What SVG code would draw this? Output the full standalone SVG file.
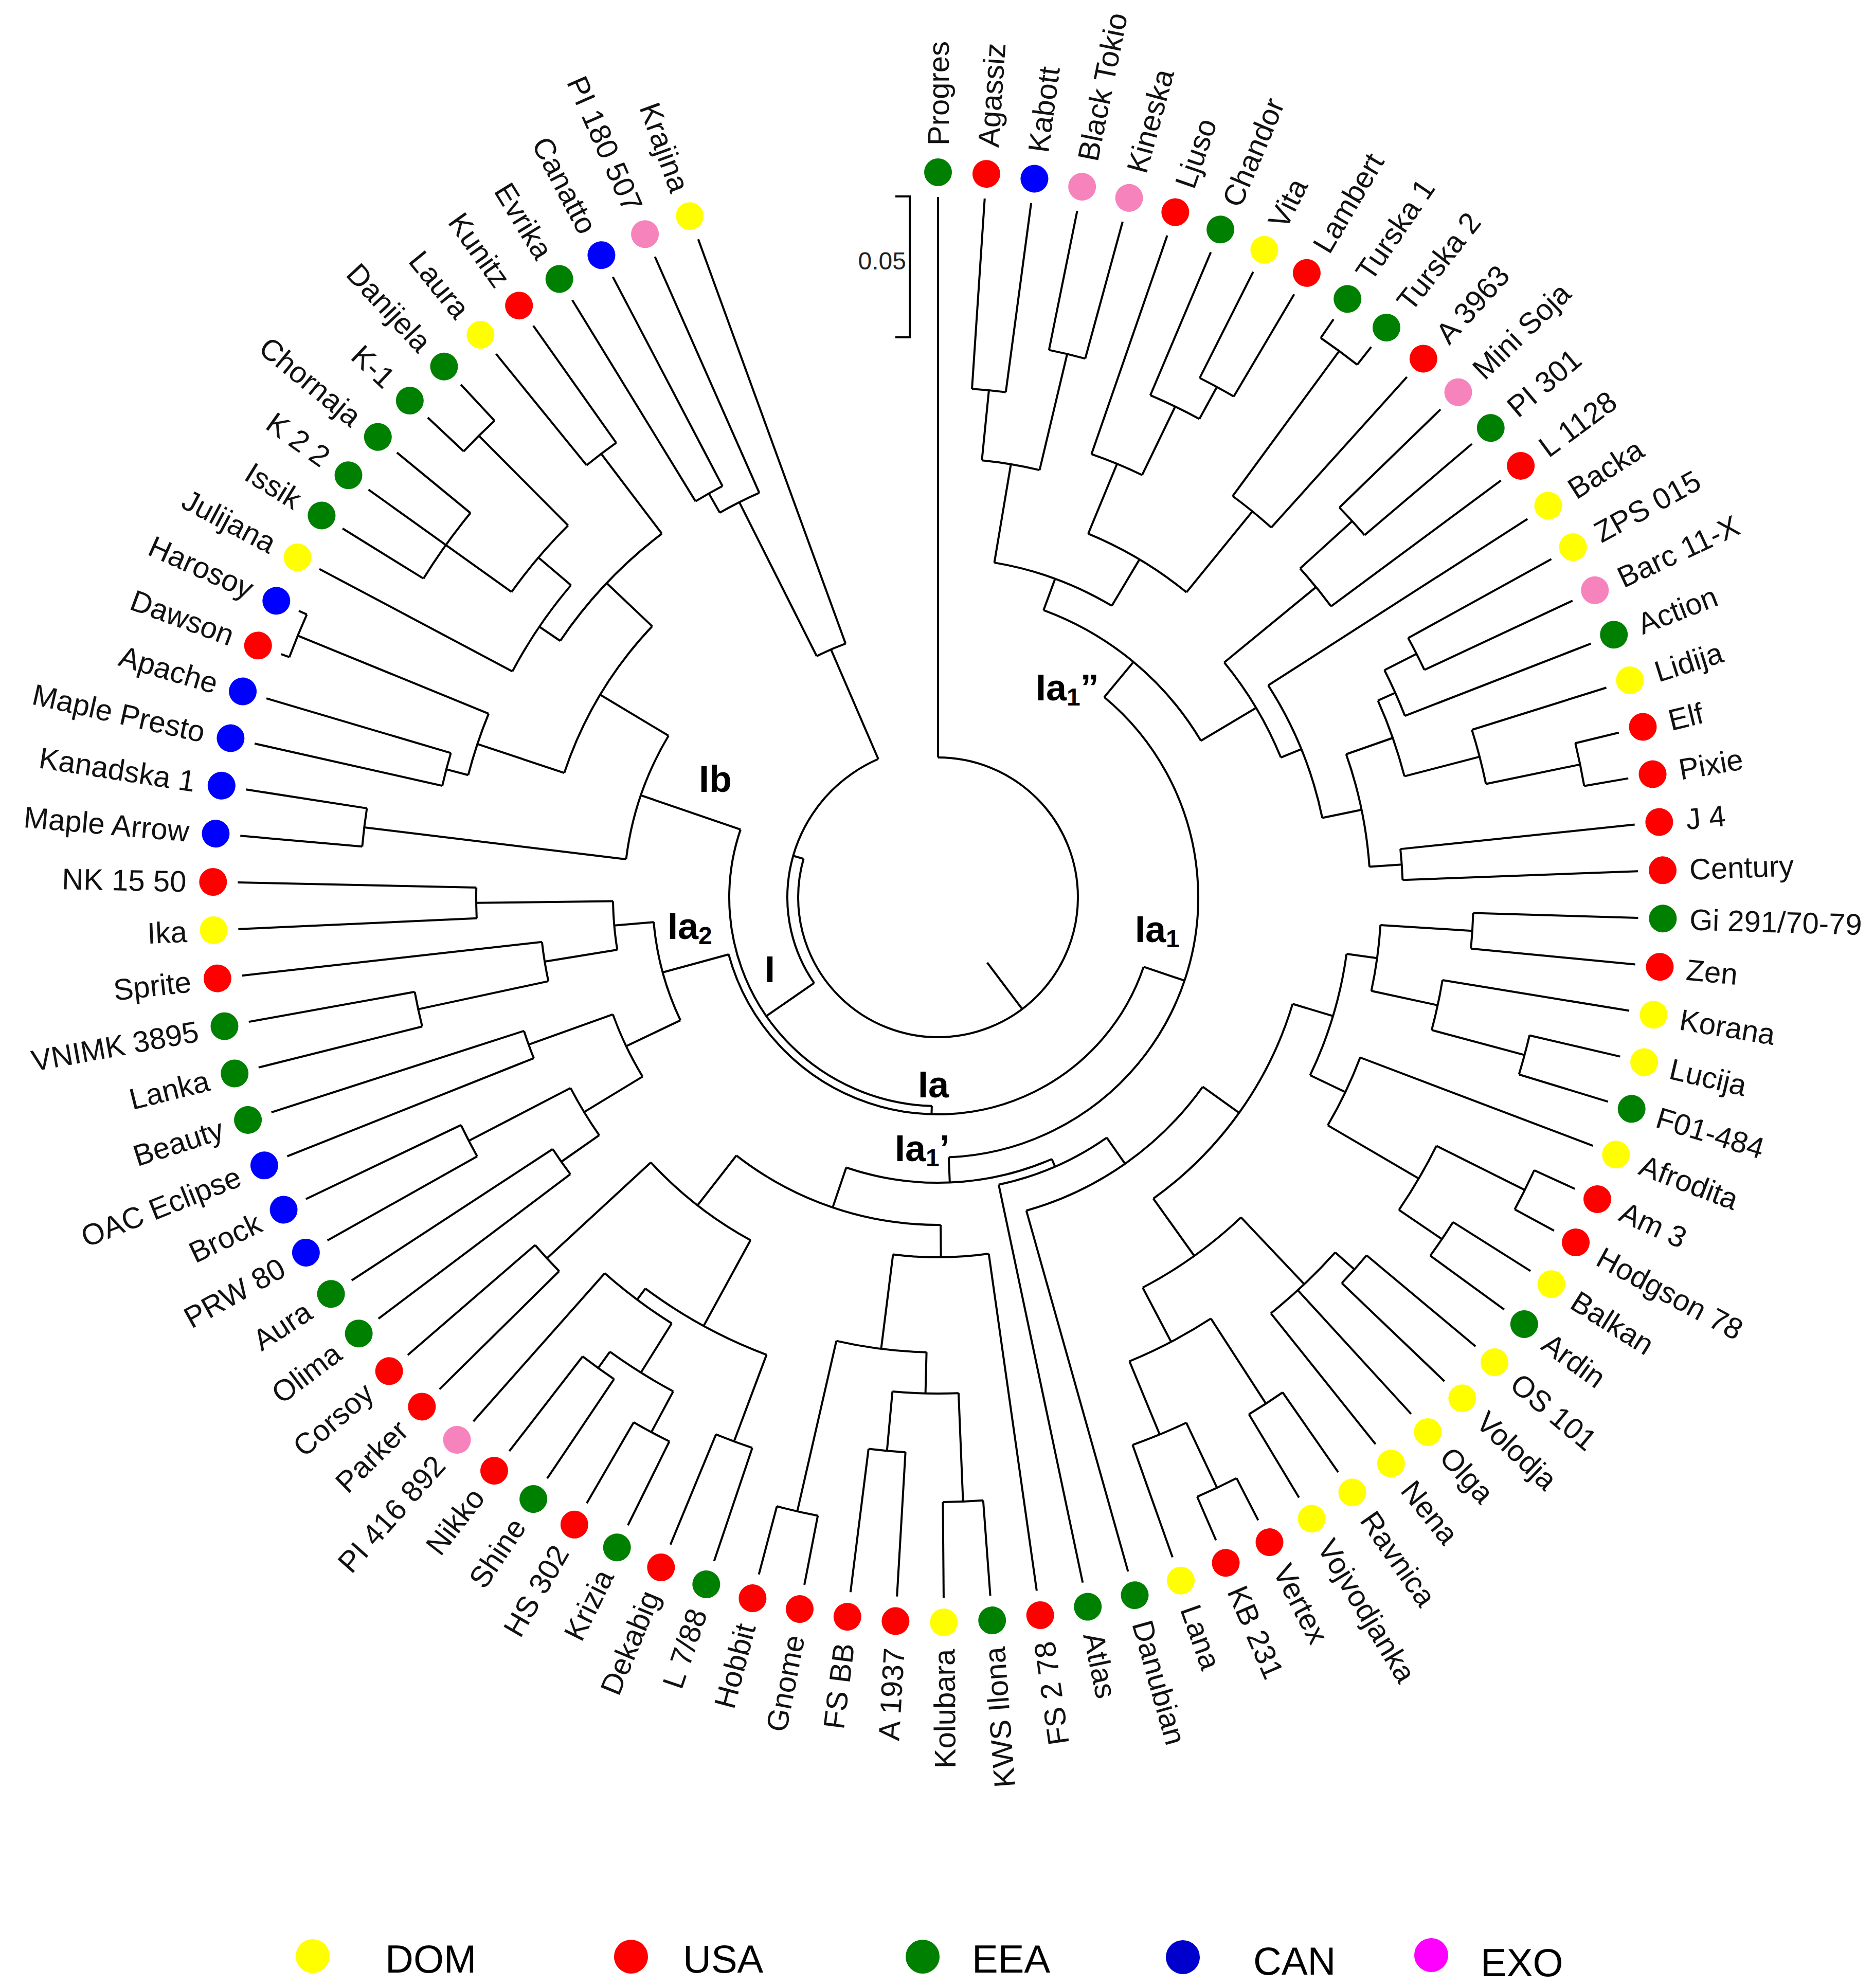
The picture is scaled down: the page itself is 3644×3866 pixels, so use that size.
<svg xmlns="http://www.w3.org/2000/svg" width="3644" height="3866" viewBox="0 0 3644 3866">
<style>
.c path,.c circle{fill:none;stroke:#000;stroke-width:4}
text{font-family:"Liberation Sans",Arial,sans-serif}
.t{font-size:58px;fill:#111;dominant-baseline:central}
.R{text-anchor:start}.L{text-anchor:end}
.cl{font-size:72px;font-weight:bold;fill:#000}
.g{fill:#008000}.r{fill:#ff0000}.b{fill:#0000ff}.y{fill:#ffff00}.p{fill:#f783bd}
</style>
<rect width="3644" height="3866" fill="#fff"/>
<g transform="translate(1824,1745)">
<g id="connectors" class="c">
<circle r="272" pathLength="360" stroke-dasharray="285.99 400" transform="rotate(-90)"/>
<circle r="293" pathLength="360" stroke-dasharray="101.31 400" transform="rotate(145.33)"/>
<circle r="525" pathLength="360" stroke-dasharray="6.68 400" transform="rotate(243.30)"/>
<circle r="860" pathLength="360" stroke-dasharray="5.73 400" transform="rotate(240.43)"/>
<circle r="903" pathLength="360" stroke-dasharray="3.82 400" transform="rotate(238.52)"/>
<circle r="406" pathLength="360" stroke-dasharray="107.24 400" transform="rotate(91.71)"/>
<circle r="422" pathLength="360" stroke-dasharray="146.08 400" transform="rotate(18.67)"/>
<circle r="506" pathLength="360" stroke-dasharray="137.94 400" transform="rotate(-50.30)"/>
<circle r="595" pathLength="360" stroke-dasharray="39.04 400" transform="rotate(-69.82)"/>
<circle r="660" pathLength="360" stroke-dasharray="21.25 400" transform="rotate(-80.45)"/>
<circle r="854" pathLength="360" stroke-dasharray="7.64 400" transform="rotate(-84.27)"/>
<circle r="991" pathLength="360" stroke-dasharray="3.82 400" transform="rotate(-86.18)"/>
<circle r="1086" pathLength="360" stroke-dasharray="3.82 400" transform="rotate(-78.54)"/>
<circle r="765" pathLength="360" stroke-dasharray="16.72 400" transform="rotate(-67.56)"/>
<circle r="912" pathLength="360" stroke-dasharray="6.69 400" transform="rotate(-70.90)"/>
<circle r="1060" pathLength="360" stroke-dasharray="5.73 400" transform="rotate(-67.08)"/>
<circle r="1131" pathLength="360" stroke-dasharray="3.82 400" transform="rotate(-63.26)"/>
<circle r="968" pathLength="360" stroke-dasharray="5.73 400" transform="rotate(-53.71)"/>
<circle r="1318" pathLength="360" stroke-dasharray="3.82 400" transform="rotate(-55.62)"/>
<circle r="720" pathLength="360" stroke-dasharray="17.19 400" transform="rotate(-39.38)"/>
<circle r="951" pathLength="360" stroke-dasharray="5.73 400" transform="rotate(-42.25)"/>
<circle r="1088" pathLength="360" stroke-dasharray="3.82 400" transform="rotate(-44.16)"/>
<circle r="763" pathLength="360" stroke-dasharray="21.02 400" transform="rotate(-32.70)"/>
<circle r="841" pathLength="360" stroke-dasharray="15.27 400" transform="rotate(-19.32)"/>
<circle r="937" pathLength="360" stroke-dasharray="9.55 400" transform="rotate(-24.10)"/>
<circle r="974" pathLength="360" stroke-dasharray="5.73 400" transform="rotate(-26.97)"/>
<circle r="1044" pathLength="360" stroke-dasharray="3.82 400" transform="rotate(-28.88)"/>
<circle r="1088" pathLength="360" stroke-dasharray="5.73 400" transform="rotate(-17.42)"/>
<circle r="1275" pathLength="360" stroke-dasharray="3.82 400" transform="rotate(-13.60)"/>
<circle r="904" pathLength="360" stroke-dasharray="3.82 400" transform="rotate(-5.96)"/>
<circle r="555" pathLength="360" stroke-dasharray="42.25 400" transform="rotate(66.51)"/>
<circle r="571" pathLength="360" stroke-dasharray="23.15 400" transform="rotate(54.93)"/>
<circle r="633" pathLength="360" stroke-dasharray="38.67 400" transform="rotate(35.59)"/>
<circle r="720" pathLength="360" stroke-dasharray="37.72 400" transform="rotate(16.73)"/>
<circle r="802" pathLength="360" stroke-dasharray="17.67 400" transform="rotate(7.89)"/>
<circle r="862" pathLength="360" stroke-dasharray="8.60 400" transform="rotate(3.59)"/>
<circle r="1041" pathLength="360" stroke-dasharray="3.82 400" transform="rotate(1.68)"/>
<circle r="994" pathLength="360" stroke-dasharray="5.73 400" transform="rotate(9.32)"/>
<circle r="1181" pathLength="360" stroke-dasharray="3.82 400" transform="rotate(13.14)"/>
<circle r="878" pathLength="360" stroke-dasharray="9.55 400" transform="rotate(20.78)"/>
<circle r="1083" pathLength="360" stroke-dasharray="7.64 400" transform="rotate(26.51)"/>
<circle r="1275" pathLength="360" stroke-dasharray="3.82 400" transform="rotate(24.60)"/>
<circle r="1184" pathLength="360" stroke-dasharray="3.82 400" transform="rotate(32.24)"/>
<circle r="857" pathLength="360" stroke-dasharray="15.76 400" transform="rotate(46.57)"/>
<circle r="1036" pathLength="360" stroke-dasharray="9.55 400" transform="rotate(41.79)"/>
<circle r="1086" pathLength="360" stroke-dasharray="3.82 400" transform="rotate(39.88)"/>
<circle r="976" pathLength="360" stroke-dasharray="10.51 400" transform="rotate(57.07)"/>
<circle r="1173" pathLength="360" stroke-dasharray="3.82 400" transform="rotate(55.16)"/>
<circle r="1130" pathLength="360" stroke-dasharray="5.73 400" transform="rotate(64.71)"/>
<circle r="1270" pathLength="360" stroke-dasharray="3.82 400" transform="rotate(62.80)"/>
<circle r="637" pathLength="360" stroke-dasharray="38.44 400" transform="rotate(89.54)"/>
<circle r="700" pathLength="360" stroke-dasharray="15.28 400" transform="rotate(81.90)"/>
<circle r="885" pathLength="360" stroke-dasharray="11.46 400" transform="rotate(91.45)"/>
<circle r="965" pathLength="360" stroke-dasharray="7.64 400" transform="rotate(87.63)"/>
<circle r="1176" pathLength="360" stroke-dasharray="3.82 400" transform="rotate(85.72)"/>
<circle r="1081" pathLength="360" stroke-dasharray="3.82 400" transform="rotate(93.36)"/>
<circle r="1225" pathLength="360" stroke-dasharray="3.82 400" transform="rotate(101.00)"/>
<circle r="760" pathLength="360" stroke-dasharray="18.62 400" transform="rotate(118.67)"/>
<circle r="950" pathLength="360" stroke-dasharray="16.24 400" transform="rotate(110.55)"/>
<circle r="1130" pathLength="360" stroke-dasharray="3.82 400" transform="rotate(108.64)"/>
<circle r="977" pathLength="360" stroke-dasharray="9.55 400" transform="rotate(122.01)"/>
<circle r="1090" pathLength="360" stroke-dasharray="7.64 400" transform="rotate(118.19)"/>
<circle r="1180" pathLength="360" stroke-dasharray="3.82 400" transform="rotate(116.28)"/>
<circle r="1129" pathLength="360" stroke-dasharray="3.82 400" transform="rotate(123.92)"/>
<circle r="1035" pathLength="360" stroke-dasharray="3.82 400" transform="rotate(135.38)"/>
<circle r="555" pathLength="360" stroke-dasharray="20.54 400" transform="rotate(154.48)"/>
<circle r="672" pathLength="360" stroke-dasharray="11.46 400" transform="rotate(148.75)"/>
<circle r="805" pathLength="360" stroke-dasharray="7.64 400" transform="rotate(144.93)"/>
<circle r="895" pathLength="360" stroke-dasharray="3.82 400" transform="rotate(143.02)"/>
<circle r="1028" pathLength="360" stroke-dasharray="3.82 400" transform="rotate(150.66)"/>
<circle r="846" pathLength="360" stroke-dasharray="3.82 400" transform="rotate(158.30)"/>
<circle r="632" pathLength="360" stroke-dasharray="8.59 400" transform="rotate(170.72)"/>
<circle r="775" pathLength="360" stroke-dasharray="5.73 400" transform="rotate(167.85)"/>
<circle r="1034" pathLength="360" stroke-dasharray="3.82 400" transform="rotate(165.94)"/>
<circle r="898" pathLength="360" stroke-dasharray="3.82 400" transform="rotate(177.40)"/>
<circle r="611" pathLength="360" stroke-dasharray="24.00 400" transform="rotate(186.95)"/>
<circle r="1124" pathLength="360" stroke-dasharray="3.82 400" transform="rotate(185.04)"/>
<circle r="766" pathLength="360" stroke-dasharray="25.07 400" transform="rotate(198.41)"/>
<circle r="944" pathLength="360" stroke-dasharray="7.64 400" transform="rotate(194.59)"/>
<circle r="988" pathLength="360" stroke-dasharray="3.82 400" transform="rotate(192.68)"/>
<circle r="1345" pathLength="360" stroke-dasharray="3.82 400" transform="rotate(200.32)"/>
<circle r="888" pathLength="360" stroke-dasharray="18.62 400" transform="rotate(214.17)"/>
<circle r="937" pathLength="360" stroke-dasharray="12.42 400" transform="rotate(207.96)"/>
<circle r="1020" pathLength="360" stroke-dasharray="9.55 400" transform="rotate(215.60)"/>
<circle r="1177" pathLength="360" stroke-dasharray="7.64 400" transform="rotate(211.78)"/>
<circle r="1266" pathLength="360" stroke-dasharray="3.82 400" transform="rotate(223.24)"/>
<circle r="1083" pathLength="360" stroke-dasharray="3.82 400" transform="rotate(230.88)"/>
<path d="M0-159V-272" transform="rotate(143)"/>
<path d="M0-272V-293" transform="rotate(285.99)"/>
<path d="M0-293V-406" transform="rotate(235.33)"/>
<path d="M0-293V-525" transform="rotate(336.64)"/>
<path d="M0-525V-860" transform="rotate(333.30)"/>
<path d="M0-860V-903" transform="rotate(330.43)"/>
<path d="M0-406V-422" transform="rotate(181.71)"/>
<path d="M0-406V-611" transform="rotate(288.95)"/>
<path d="M0-422V-506" transform="rotate(108.67)"/>
<path d="M0-422V-555" transform="rotate(254.75)"/>
<path d="M0-506V-595" transform="rotate(39.70)"/>
<path d="M0-506V-555" transform="rotate(177.64)"/>
<path d="M0-595V-660" transform="rotate(20.18)"/>
<path d="M0-595V-720" transform="rotate(59.22)"/>
<path d="M0-660V-854" transform="rotate(9.55)"/>
<path d="M0-660V-765" transform="rotate(30.80)"/>
<path d="M0-854V-991" transform="rotate(5.73)"/>
<path d="M0-854V-1086" transform="rotate(13.37)"/>
<path d="M0-765V-912" transform="rotate(22.44)"/>
<path d="M0-765V-968" transform="rotate(39.16)"/>
<path d="M0-912V-1060" transform="rotate(25.79)"/>
<path d="M0-1060V-1131" transform="rotate(28.65)"/>
<path d="M0-968V-1318" transform="rotate(36.29)"/>
<path d="M0-720V-951" transform="rotate(50.62)"/>
<path d="M0-720V-763" transform="rotate(67.81)"/>
<path d="M0-951V-1088" transform="rotate(47.75)"/>
<path d="M0-763V-841" transform="rotate(78.32)"/>
<path d="M0-841V-937" transform="rotate(70.68)"/>
<path d="M0-841V-904" transform="rotate(85.95)"/>
<path d="M0-937V-974" transform="rotate(65.90)"/>
<path d="M0-937V-1088" transform="rotate(75.45)"/>
<path d="M0-974V-1044" transform="rotate(63.03)"/>
<path d="M0-1088V-1275" transform="rotate(78.31)"/>
<path d="M0-555V-571" transform="rotate(156.51)"/>
<path d="M0-555V-637" transform="rotate(198.76)"/>
<path d="M0-571V-633" transform="rotate(144.93)"/>
<path d="M0-633V-720" transform="rotate(125.59)"/>
<path d="M0-720V-802" transform="rotate(106.73)"/>
<path d="M0-720V-857" transform="rotate(144.45)"/>
<path d="M0-802V-862" transform="rotate(97.89)"/>
<path d="M0-802V-878" transform="rotate(115.56)"/>
<path d="M0-862V-1041" transform="rotate(93.59)"/>
<path d="M0-862V-994" transform="rotate(102.19)"/>
<path d="M0-994V-1181" transform="rotate(105.05)"/>
<path d="M0-878V-1083" transform="rotate(120.33)"/>
<path d="M0-1083V-1275" transform="rotate(116.51)"/>
<path d="M0-1083V-1184" transform="rotate(124.15)"/>
<path d="M0-857V-1036" transform="rotate(136.57)"/>
<path d="M0-857V-976" transform="rotate(152.33)"/>
<path d="M0-1036V-1086" transform="rotate(131.79)"/>
<path d="M0-976V-1173" transform="rotate(147.07)"/>
<path d="M0-976V-1130" transform="rotate(157.58)"/>
<path d="M0-1130V-1270" transform="rotate(154.71)"/>
<path d="M0-637V-700" transform="rotate(179.54)"/>
<path d="M0-637V-760" transform="rotate(217.98)"/>
<path d="M0-700V-885" transform="rotate(187.18)"/>
<path d="M0-885V-965" transform="rotate(181.45)"/>
<path d="M0-885V-1225" transform="rotate(192.91)"/>
<path d="M0-965V-1176" transform="rotate(177.63)"/>
<path d="M0-965V-1081" transform="rotate(185.27)"/>
<path d="M0-760V-950" transform="rotate(208.67)"/>
<path d="M0-760V-1035" transform="rotate(227.29)"/>
<path d="M0-950V-1130" transform="rotate(200.55)"/>
<path d="M0-950V-977" transform="rotate(216.79)"/>
<path d="M0-977V-1090" transform="rotate(212.01)"/>
<path d="M0-1090V-1180" transform="rotate(208.19)"/>
<path d="M0-1090V-1129" transform="rotate(215.83)"/>
<path d="M0-555V-672" transform="rotate(244.48)"/>
<path d="M0-555V-632" transform="rotate(265.02)"/>
<path d="M0-672V-805" transform="rotate(238.75)"/>
<path d="M0-672V-846" transform="rotate(250.21)"/>
<path d="M0-805V-895" transform="rotate(234.93)"/>
<path d="M0-805V-1028" transform="rotate(242.57)"/>
<path d="M0-632V-775" transform="rotate(260.72)"/>
<path d="M0-632V-898" transform="rotate(269.31)"/>
<path d="M0-775V-1034" transform="rotate(257.85)"/>
<path d="M0-611V-1124" transform="rotate(276.95)"/>
<path d="M0-611V-766" transform="rotate(300.95)"/>
<path d="M0-766V-944" transform="rotate(288.41)"/>
<path d="M0-766V-888" transform="rotate(313.48)"/>
<path d="M0-944V-988" transform="rotate(284.59)"/>
<path d="M0-944V-1345" transform="rotate(292.23)"/>
<path d="M0-888V-937" transform="rotate(304.17)"/>
<path d="M0-888V-1083" transform="rotate(322.79)"/>
<path d="M0-937V-1020" transform="rotate(310.38)"/>
<path d="M0-1020V-1177" transform="rotate(305.60)"/>
<path d="M0-1020V-1266" transform="rotate(315.15)"/>
<path d="M0-272V-1362"/>
<path d="M0-991V-1362" transform="rotate(3.82)"/>
<path d="M0-991V-1362" transform="rotate(7.64)"/>
<path d="M0-1086V-1362" transform="rotate(11.46)"/>
<path d="M0-1086V-1362" transform="rotate(15.28)"/>
<path d="M0-912V-1362" transform="rotate(19.10)"/>
<path d="M0-1060V-1362" transform="rotate(22.92)"/>
<path d="M0-1131V-1362" transform="rotate(26.74)"/>
<path d="M0-1131V-1362" transform="rotate(30.56)"/>
<path d="M0-1318V-1362" transform="rotate(34.38)"/>
<path d="M0-1318V-1362" transform="rotate(38.20)"/>
<path d="M0-968V-1362" transform="rotate(42.02)"/>
<path d="M0-1088V-1362" transform="rotate(45.84)"/>
<path d="M0-1088V-1362" transform="rotate(49.66)"/>
<path d="M0-951V-1362" transform="rotate(53.48)"/>
<path d="M0-763V-1362" transform="rotate(57.30)"/>
<path d="M0-1044V-1362" transform="rotate(61.12)"/>
<path d="M0-1044V-1362" transform="rotate(64.94)"/>
<path d="M0-974V-1362" transform="rotate(68.76)"/>
<path d="M0-1088V-1362" transform="rotate(72.58)"/>
<path d="M0-1275V-1362" transform="rotate(76.40)"/>
<path d="M0-1275V-1362" transform="rotate(80.22)"/>
<path d="M0-904V-1362" transform="rotate(84.04)"/>
<path d="M0-904V-1362" transform="rotate(87.86)"/>
<path d="M0-1041V-1362" transform="rotate(91.68)"/>
<path d="M0-1041V-1362" transform="rotate(95.50)"/>
<path d="M0-994V-1362" transform="rotate(99.32)"/>
<path d="M0-1181V-1362" transform="rotate(103.14)"/>
<path d="M0-1181V-1362" transform="rotate(106.96)"/>
<path d="M0-878V-1362" transform="rotate(110.78)"/>
<path d="M0-1275V-1362" transform="rotate(114.60)"/>
<path d="M0-1275V-1362" transform="rotate(118.42)"/>
<path d="M0-1184V-1362" transform="rotate(122.24)"/>
<path d="M0-1184V-1362" transform="rotate(126.06)"/>
<path d="M0-1086V-1362" transform="rotate(129.88)"/>
<path d="M0-1086V-1362" transform="rotate(133.70)"/>
<path d="M0-1036V-1362" transform="rotate(137.52)"/>
<path d="M0-1036V-1362" transform="rotate(141.34)"/>
<path d="M0-1173V-1362" transform="rotate(145.16)"/>
<path d="M0-1173V-1362" transform="rotate(148.98)"/>
<path d="M0-1270V-1362" transform="rotate(152.80)"/>
<path d="M0-1270V-1362" transform="rotate(156.62)"/>
<path d="M0-1130V-1362" transform="rotate(160.44)"/>
<path d="M0-633V-1362" transform="rotate(164.26)"/>
<path d="M0-571V-1362" transform="rotate(168.08)"/>
<path d="M0-700V-1362" transform="rotate(171.90)"/>
<path d="M0-1176V-1362" transform="rotate(175.72)"/>
<path d="M0-1176V-1362" transform="rotate(179.54)"/>
<path d="M0-1081V-1362" transform="rotate(183.36)"/>
<path d="M0-1081V-1362" transform="rotate(187.18)"/>
<path d="M0-1225V-1362" transform="rotate(191.00)"/>
<path d="M0-1225V-1362" transform="rotate(194.82)"/>
<path d="M0-1130V-1362" transform="rotate(198.64)"/>
<path d="M0-1130V-1362" transform="rotate(202.46)"/>
<path d="M0-1180V-1362" transform="rotate(206.28)"/>
<path d="M0-1180V-1362" transform="rotate(210.10)"/>
<path d="M0-1129V-1362" transform="rotate(213.92)"/>
<path d="M0-1129V-1362" transform="rotate(217.74)"/>
<path d="M0-977V-1362" transform="rotate(221.56)"/>
<path d="M0-1035V-1362" transform="rotate(225.38)"/>
<path d="M0-1035V-1362" transform="rotate(229.20)"/>
<path d="M0-895V-1362" transform="rotate(233.02)"/>
<path d="M0-895V-1362" transform="rotate(236.84)"/>
<path d="M0-1028V-1362" transform="rotate(240.66)"/>
<path d="M0-1028V-1362" transform="rotate(244.48)"/>
<path d="M0-846V-1362" transform="rotate(248.30)"/>
<path d="M0-846V-1362" transform="rotate(252.12)"/>
<path d="M0-1034V-1362" transform="rotate(255.94)"/>
<path d="M0-1034V-1362" transform="rotate(259.76)"/>
<path d="M0-775V-1362" transform="rotate(263.58)"/>
<path d="M0-898V-1362" transform="rotate(267.40)"/>
<path d="M0-898V-1362" transform="rotate(271.22)"/>
<path d="M0-1124V-1362" transform="rotate(275.04)"/>
<path d="M0-1124V-1362" transform="rotate(278.86)"/>
<path d="M0-988V-1362" transform="rotate(282.68)"/>
<path d="M0-988V-1362" transform="rotate(286.50)"/>
<path d="M0-1345V-1362" transform="rotate(290.32)"/>
<path d="M0-1345V-1362" transform="rotate(294.14)"/>
<path d="M0-937V-1362" transform="rotate(297.96)"/>
<path d="M0-1177V-1362" transform="rotate(301.78)"/>
<path d="M0-1177V-1362" transform="rotate(305.60)"/>
<path d="M0-1177V-1362" transform="rotate(309.42)"/>
<path d="M0-1266V-1362" transform="rotate(313.24)"/>
<path d="M0-1266V-1362" transform="rotate(317.06)"/>
<path d="M0-1083V-1362" transform="rotate(320.88)"/>
<path d="M0-1083V-1362" transform="rotate(324.70)"/>
<path d="M0-903V-1362" transform="rotate(328.52)"/>
<path d="M0-903V-1362" transform="rotate(332.34)"/>
<path d="M0-860V-1362" transform="rotate(336.16)"/>
<path d="M0-525V-1362" transform="rotate(339.98)"/>
</g>
<g id="leaves" class="t">
<g id="n-progres"><circle cy="-1410" r="27" class="g"/><text class="R" transform="translate(0,-1462)rotate(-90)">Progres</text></g>
<g id="n-agassiz" transform="rotate(3.82)"><circle cy="-1410" r="27" class="r"/><text class="R" transform="translate(0,-1462)rotate(-90)">Agassiz</text></g>
<g id="n-kabott" transform="rotate(7.64)"><circle cy="-1410" r="27" class="b"/><text class="R" transform="translate(0,-1462)rotate(-90)">Kabott</text></g>
<g id="n-blacktokio" transform="rotate(11.46)"><circle cy="-1410" r="27" class="p"/><text class="R" transform="translate(0,-1462)rotate(-90)">Black Tokio</text></g>
<g id="n-kineska" transform="rotate(15.28)"><circle cy="-1410" r="27" class="p"/><text class="R" transform="translate(0,-1462)rotate(-90)">Kineska</text></g>
<g id="n-ljuso" transform="rotate(19.10)"><circle cy="-1410" r="27" class="r"/><text class="R" transform="translate(0,-1462)rotate(-90)">Ljuso</text></g>
<g id="n-chandor" transform="rotate(22.92)"><circle cy="-1410" r="27" class="g"/><text class="R" transform="translate(0,-1462)rotate(-90)">Chandor</text></g>
<g id="n-vita" transform="rotate(26.74)"><circle cy="-1410" r="27" class="y"/><text class="R" transform="translate(0,-1462)rotate(-90)">Vita</text></g>
<g id="n-lambert" transform="rotate(30.56)"><circle cy="-1410" r="27" class="r"/><text class="R" transform="translate(0,-1462)rotate(-90)">Lambert</text></g>
<g id="n-turska1" transform="rotate(34.38)"><circle cy="-1410" r="27" class="g"/><text class="R" transform="translate(0,-1462)rotate(-90)">Turska 1</text></g>
<g id="n-turska2" transform="rotate(38.20)"><circle cy="-1410" r="27" class="g"/><text class="R" transform="translate(0,-1462)rotate(-90)">Turska 2</text></g>
<g id="n-a3963" transform="rotate(42.02)"><circle cy="-1410" r="27" class="r"/><text class="R" transform="translate(0,-1462)rotate(-90)">A 3963</text></g>
<g id="n-minisoja" transform="rotate(45.84)"><circle cy="-1410" r="27" class="p"/><text class="R" transform="translate(0,-1462)rotate(-90)">Mini Soja</text></g>
<g id="n-pi301" transform="rotate(49.66)"><circle cy="-1410" r="27" class="g"/><text class="R" transform="translate(0,-1462)rotate(-90)">PI 301</text></g>
<g id="n-l1128" transform="rotate(53.48)"><circle cy="-1410" r="27" class="r"/><text class="R" transform="translate(0,-1462)rotate(-90)">L 1128</text></g>
<g id="n-backa" transform="rotate(57.30)"><circle cy="-1410" r="27" class="y"/><text class="R" transform="translate(0,-1462)rotate(-90)">Backa</text></g>
<g id="n-zps015" transform="rotate(61.12)"><circle cy="-1410" r="27" class="y"/><text class="R" transform="translate(0,-1462)rotate(-90)">ZPS 015</text></g>
<g id="n-barc11x" transform="rotate(64.94)"><circle cy="-1410" r="27" class="p"/><text class="R" transform="translate(0,-1462)rotate(-90)">Barc 11-X</text></g>
<g id="n-action" transform="rotate(68.76)"><circle cy="-1410" r="27" class="g"/><text class="R" transform="translate(0,-1462)rotate(-90)">Action</text></g>
<g id="n-lidija" transform="rotate(72.58)"><circle cy="-1410" r="27" class="y"/><text class="R" transform="translate(0,-1462)rotate(-90)">Lidija</text></g>
<g id="n-elf" transform="rotate(76.40)"><circle cy="-1410" r="27" class="r"/><text class="R" transform="translate(0,-1462)rotate(-90)">Elf</text></g>
<g id="n-pixie" transform="rotate(80.22)"><circle cy="-1410" r="27" class="r"/><text class="R" transform="translate(0,-1462)rotate(-90)">Pixie</text></g>
<g id="n-j4" transform="rotate(84.04)"><circle cy="-1410" r="27" class="r"/><text class="R" transform="translate(0,-1462)rotate(-90)">J 4</text></g>
<g id="n-century" transform="rotate(87.86)"><circle cy="-1410" r="27" class="r"/><text class="R" transform="translate(0,-1462)rotate(-90)">Century</text></g>
<g id="n-gi291" transform="rotate(91.68)"><circle cy="-1410" r="27" class="g"/><text class="R" transform="translate(0,-1462)rotate(-90)">Gi 291/70-79</text></g>
<g id="n-zen" transform="rotate(95.50)"><circle cy="-1410" r="27" class="r"/><text class="R" transform="translate(0,-1462)rotate(-90)">Zen</text></g>
<g id="n-korana" transform="rotate(99.32)"><circle cy="-1410" r="27" class="y"/><text class="R" transform="translate(0,-1462)rotate(-90)">Korana</text></g>
<g id="n-lucija" transform="rotate(103.14)"><circle cy="-1410" r="27" class="y"/><text class="R" transform="translate(0,-1462)rotate(-90)">Lucija</text></g>
<g id="n-f01484" transform="rotate(106.96)"><circle cy="-1410" r="27" class="g"/><text class="R" transform="translate(0,-1462)rotate(-90)">F01-484</text></g>
<g id="n-afrodita" transform="rotate(110.78)"><circle cy="-1410" r="27" class="y"/><text class="R" transform="translate(0,-1462)rotate(-90)">Afrodita</text></g>
<g id="n-am3" transform="rotate(114.60)"><circle cy="-1410" r="27" class="r"/><text class="R" transform="translate(0,-1462)rotate(-90)">Am 3</text></g>
<g id="n-hodgson78" transform="rotate(118.42)"><circle cy="-1410" r="27" class="r"/><text class="R" transform="translate(0,-1462)rotate(-90)">Hodgson 78</text></g>
<g id="n-balkan" transform="rotate(122.24)"><circle cy="-1410" r="27" class="y"/><text class="R" transform="translate(0,-1462)rotate(-90)">Balkan</text></g>
<g id="n-ardin" transform="rotate(126.06)"><circle cy="-1410" r="27" class="g"/><text class="R" transform="translate(0,-1462)rotate(-90)">Ardin</text></g>
<g id="n-os101" transform="rotate(129.88)"><circle cy="-1410" r="27" class="y"/><text class="R" transform="translate(0,-1462)rotate(-90)">OS 101</text></g>
<g id="n-volodja" transform="rotate(133.70)"><circle cy="-1410" r="27" class="y"/><text class="R" transform="translate(0,-1462)rotate(-90)">Volodja</text></g>
<g id="n-olga" transform="rotate(137.52)"><circle cy="-1410" r="27" class="y"/><text class="R" transform="translate(0,-1462)rotate(-90)">Olga</text></g>
<g id="n-nena" transform="rotate(141.34)"><circle cy="-1410" r="27" class="y"/><text class="R" transform="translate(0,-1462)rotate(-90)">Nena</text></g>
<g id="n-ravnica" transform="rotate(145.16)"><circle cy="-1410" r="27" class="y"/><text class="R" transform="translate(0,-1462)rotate(-90)">Ravnica</text></g>
<g id="n-vojvodjanka" transform="rotate(148.98)"><circle cy="-1410" r="27" class="y"/><text class="R" transform="translate(0,-1462)rotate(-90)">Vojvodjanka</text></g>
<g id="n-vertex" transform="rotate(152.80)"><circle cy="-1410" r="27" class="r"/><text class="R" transform="translate(0,-1462)rotate(-90)">Vertex</text></g>
<g id="n-kb231" transform="rotate(156.62)"><circle cy="-1410" r="27" class="r"/><text class="R" transform="translate(0,-1462)rotate(-90)">KB 231</text></g>
<g id="n-lana" transform="rotate(160.44)"><circle cy="-1410" r="27" class="y"/><text class="R" transform="translate(0,-1462)rotate(-90)">Lana</text></g>
<g id="n-danubian" transform="rotate(164.26)"><circle cy="-1410" r="27" class="g"/><text class="R" transform="translate(0,-1462)rotate(-90)">Danubian</text></g>
<g id="n-atlas" transform="rotate(168.08)"><circle cy="-1410" r="27" class="g"/><text class="R" transform="translate(0,-1462)rotate(-90)">Atlas</text></g>
<g id="n-fs278" transform="rotate(171.90)"><circle cy="-1410" r="27" class="r"/><text class="L" transform="translate(0,-1462)rotate(90)">FS 2 78</text></g>
<g id="n-kwsilona" transform="rotate(175.72)"><circle cy="-1410" r="27" class="g"/><text class="L" transform="translate(0,-1462)rotate(90)">KWS Ilona</text></g>
<g id="n-kolubara" transform="rotate(179.54)"><circle cy="-1410" r="27" class="y"/><text class="L" transform="translate(0,-1462)rotate(90)">Kolubara</text></g>
<g id="n-a1937" transform="rotate(183.36)"><circle cy="-1410" r="27" class="r"/><text class="L" transform="translate(0,-1462)rotate(90)">A 1937</text></g>
<g id="n-fsbb" transform="rotate(187.18)"><circle cy="-1410" r="27" class="r"/><text class="L" transform="translate(0,-1462)rotate(90)">FS BB</text></g>
<g id="n-gnome" transform="rotate(191.00)"><circle cy="-1410" r="27" class="r"/><text class="L" transform="translate(0,-1462)rotate(90)">Gnome</text></g>
<g id="n-hobbit" transform="rotate(194.82)"><circle cy="-1410" r="27" class="r"/><text class="L" transform="translate(0,-1462)rotate(90)">Hobbit</text></g>
<g id="n-l788" transform="rotate(198.64)"><circle cy="-1410" r="27" class="g"/><text class="L" transform="translate(0,-1462)rotate(90)">L 7/88</text></g>
<g id="n-dekabig" transform="rotate(202.46)"><circle cy="-1410" r="27" class="r"/><text class="L" transform="translate(0,-1462)rotate(90)">Dekabig</text></g>
<g id="n-krizia" transform="rotate(206.28)"><circle cy="-1410" r="27" class="g"/><text class="L" transform="translate(0,-1462)rotate(90)">Krizia</text></g>
<g id="n-hs302" transform="rotate(210.10)"><circle cy="-1410" r="27" class="r"/><text class="L" transform="translate(0,-1462)rotate(90)">HS 302</text></g>
<g id="n-shine" transform="rotate(213.92)"><circle cy="-1410" r="27" class="g"/><text class="L" transform="translate(0,-1462)rotate(90)">Shine</text></g>
<g id="n-nikko" transform="rotate(217.74)"><circle cy="-1410" r="27" class="r"/><text class="L" transform="translate(0,-1462)rotate(90)">Nikko</text></g>
<g id="n-pi416892" transform="rotate(221.56)"><circle cy="-1410" r="27" class="p"/><text class="L" transform="translate(0,-1462)rotate(90)">PI 416 892</text></g>
<g id="n-parker" transform="rotate(225.38)"><circle cy="-1410" r="27" class="r"/><text class="L" transform="translate(0,-1462)rotate(90)">Parker</text></g>
<g id="n-corsoy" transform="rotate(229.20)"><circle cy="-1410" r="27" class="r"/><text class="L" transform="translate(0,-1462)rotate(90)">Corsoy</text></g>
<g id="n-olima" transform="rotate(233.02)"><circle cy="-1410" r="27" class="g"/><text class="L" transform="translate(0,-1462)rotate(90)">Olima</text></g>
<g id="n-aura" transform="rotate(236.84)"><circle cy="-1410" r="27" class="g"/><text class="L" transform="translate(0,-1462)rotate(90)">Aura</text></g>
<g id="n-prw80" transform="rotate(240.66)"><circle cy="-1410" r="27" class="b"/><text class="L" transform="translate(0,-1462)rotate(90)">PRW 80</text></g>
<g id="n-brock" transform="rotate(244.48)"><circle cy="-1410" r="27" class="b"/><text class="L" transform="translate(0,-1462)rotate(90)">Brock</text></g>
<g id="n-oaceclipse" transform="rotate(248.30)"><circle cy="-1410" r="27" class="b"/><text class="L" transform="translate(0,-1462)rotate(90)">OAC Eclipse</text></g>
<g id="n-beauty" transform="rotate(252.12)"><circle cy="-1410" r="27" class="g"/><text class="L" transform="translate(0,-1462)rotate(90)">Beauty</text></g>
<g id="n-lanka" transform="rotate(255.94)"><circle cy="-1410" r="27" class="g"/><text class="L" transform="translate(0,-1462)rotate(90)">Lanka</text></g>
<g id="n-vnimk3895" transform="rotate(259.76)"><circle cy="-1410" r="27" class="g"/><text class="L" transform="translate(0,-1462)rotate(90)">VNIMK 3895</text></g>
<g id="n-sprite" transform="rotate(263.58)"><circle cy="-1410" r="27" class="r"/><text class="L" transform="translate(0,-1462)rotate(90)">Sprite</text></g>
<g id="n-ika" transform="rotate(267.40)"><circle cy="-1410" r="27" class="y"/><text class="L" transform="translate(0,-1462)rotate(90)">Ika</text></g>
<g id="n-nk1550" transform="rotate(271.22)"><circle cy="-1410" r="27" class="r"/><text class="L" transform="translate(0,-1462)rotate(90)">NK 15 50</text></g>
<g id="n-maplearrow" transform="rotate(275.04)"><circle cy="-1410" r="27" class="b"/><text class="L" transform="translate(0,-1462)rotate(90)">Maple Arrow</text></g>
<g id="n-kanadska1" transform="rotate(278.86)"><circle cy="-1410" r="27" class="b"/><text class="L" transform="translate(0,-1462)rotate(90)">Kanadska 1</text></g>
<g id="n-maplepresto" transform="rotate(282.68)"><circle cy="-1410" r="27" class="b"/><text class="L" transform="translate(0,-1462)rotate(90)">Maple Presto</text></g>
<g id="n-apache" transform="rotate(286.50)"><circle cy="-1410" r="27" class="b"/><text class="L" transform="translate(0,-1462)rotate(90)">Apache</text></g>
<g id="n-dawson" transform="rotate(290.32)"><circle cy="-1410" r="27" class="r"/><text class="L" transform="translate(0,-1462)rotate(90)">Dawson</text></g>
<g id="n-harosoy" transform="rotate(294.14)"><circle cy="-1410" r="27" class="b"/><text class="L" transform="translate(0,-1462)rotate(90)">Harosoy</text></g>
<g id="n-julijana" transform="rotate(297.96)"><circle cy="-1410" r="27" class="y"/><text class="L" transform="translate(0,-1462)rotate(90)">Julijana</text></g>
<g id="n-issik" transform="rotate(301.78)"><circle cy="-1410" r="27" class="g"/><text class="L" transform="translate(0,-1462)rotate(90)">Issik</text></g>
<g id="n-k22" transform="rotate(305.60)"><circle cy="-1410" r="27" class="g"/><text class="L" transform="translate(0,-1462)rotate(90)">K 2 2</text></g>
<g id="n-chornaja" transform="rotate(309.42)"><circle cy="-1410" r="27" class="g"/><text class="L" transform="translate(0,-1462)rotate(90)">Chornaja</text></g>
<g id="n-k1" transform="rotate(313.24)"><circle cy="-1410" r="27" class="g"/><text class="L" transform="translate(0,-1462)rotate(90)">K-1</text></g>
<g id="n-danijela" transform="rotate(317.06)"><circle cy="-1410" r="27" class="g"/><text class="L" transform="translate(0,-1462)rotate(90)">Danijela</text></g>
<g id="n-laura" transform="rotate(320.88)"><circle cy="-1410" r="27" class="y"/><text class="L" transform="translate(0,-1462)rotate(90)">Laura</text></g>
<g id="n-kunitz" transform="rotate(324.70)"><circle cy="-1410" r="27" class="r"/><text class="L" transform="translate(0,-1462)rotate(90)">Kunitz</text></g>
<g id="n-evrika" transform="rotate(328.52)"><circle cy="-1410" r="27" class="g"/><text class="L" transform="translate(0,-1462)rotate(90)">Evrika</text></g>
<g id="n-canatto" transform="rotate(332.34)"><circle cy="-1410" r="27" class="b"/><text class="L" transform="translate(0,-1462)rotate(90)">Canatto</text></g>
<g id="n-pi180507" transform="rotate(336.16)"><circle cy="-1410" r="27" class="p"/><text class="L" transform="translate(0,-1462)rotate(90)">PI 180 507</text></g>
<g id="n-krajina" transform="rotate(339.98)"><circle cy="-1410" r="27" class="y"/><text class="L" transform="translate(0,-1462)rotate(90)">Krajina</text></g>
</g>
</g>
<g id="clade-labels" class="cl">
<text x="2014" y="1362">Ia<tspan font-size="48" dy="10">1</tspan><tspan dy="-10">”</tspan></text>
<text x="2207" y="1832">Ia<tspan font-size="48" dy="10">1</tspan></text>
<text x="1785" y="2134">Ia</text>
<text x="1740" y="2258">Ia<tspan font-size="48" dy="10">1</tspan><tspan dy="-10">’</tspan></text>
<text x="1487" y="1910">I</text>
<text x="1298" y="1826">Ia<tspan font-size="48" dy="10">2</tspan></text>
<text x="1359" y="1540">Ib</text>
</g>
<g id="scale-bar">
<path d="M1741,382H1769V656H1741" fill="none" stroke="#000" stroke-width="4"/>
<text x="1762" y="524" font-size="48" text-anchor="end" fill="#222">0.05</text>
</g>
<g id="legend" font-size="76">
<g id="legend-dom"><circle cx="608" cy="3804" r="33" fill="#ffff00"/><text x="749" y="3836">DOM</text></g>
<g id="legend-usa"><circle cx="1227" cy="3805" r="33" fill="#ff0000"/><text x="1328" y="3836">USA</text></g>
<g id="legend-eea"><circle cx="1794" cy="3805" r="33" fill="#008000"/><text x="1890" y="3836">EEA</text></g>
<g id="legend-can"><circle cx="2300" cy="3806" r="33" fill="#0000cc"/><text x="2437" y="3840">CAN</text></g>
<g id="legend-exo"><circle cx="2783" cy="3802" r="33" fill="#ff00ff"/><text x="2879" y="3843">EXO</text></g>
</g>
</svg>
